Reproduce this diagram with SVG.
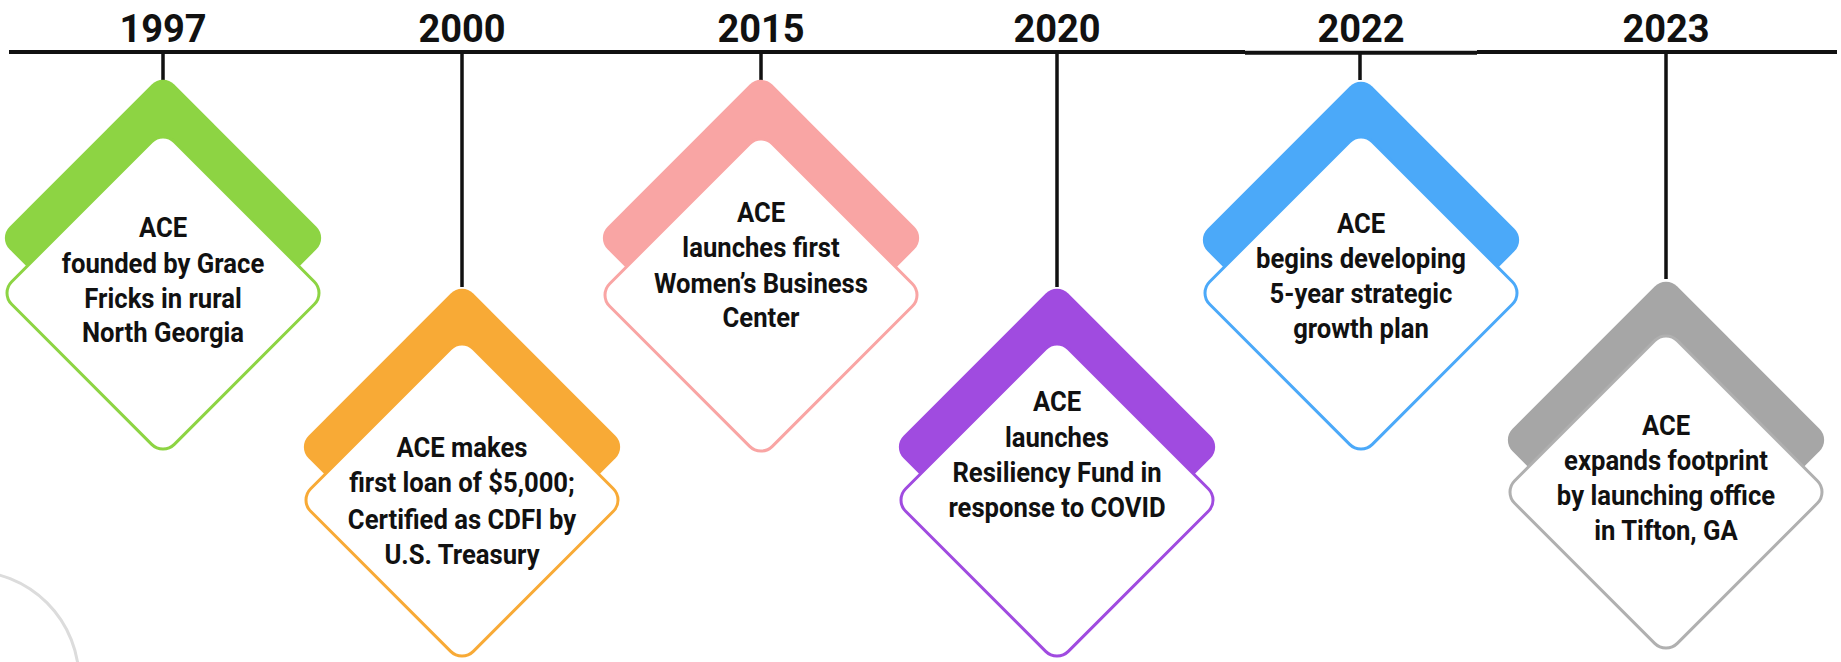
<svg xmlns="http://www.w3.org/2000/svg" width="1841" height="662" viewBox="0 0 1841 662">
<style>
.yr{font-family:Roboto,"Liberation Sans",sans-serif;font-weight:700;font-size:38px;fill:#111;text-anchor:middle}
.lbl{font-family:Roboto,"Liberation Sans",sans-serif;font-weight:700;font-size:28.5px;fill:#111;text-anchor:middle}
.tl{stroke:#111;stroke-width:4;fill:none}
.cn{stroke:#111;stroke-width:3.5;fill:none}
.card{fill:#fff;stroke-width:3}
</style>
<defs>
<rect id="dia" x="-116.5" y="-116.5" width="233" height="233" rx="16" transform="rotate(45)"/>
<rect id="diaw" x="-115" y="-115" width="230" height="230" rx="16" transform="rotate(45)"/>
</defs>
<rect width="1841" height="662" fill="#fff"/>
<circle cx="-30" cy="680" r="109" fill="none" stroke="#dcdcdc" stroke-width="3"/>
<g id="connectors">
<path class="tl" d="M9 52H1245M1245 52.8H1477M1477 52H1837"/>
<path class="cn" d="M163 52V80M462 52V287M761 52V80M1057 52V287M1360 52V80M1666 52V279"/>
</g>
<g id="n1997">
<text class="yr" x="163" y="42">1997</text>
<use href="#dia" x="163" y="238" fill="#8DD443"/>
<use href="#diaw" x="163" y="293" class="card" stroke="#8DD443"/>
<g transform="translate(163,0) scale(0.9,1)">
<text class="lbl" x="0" y="237">ACE</text>
<text class="lbl" x="0" y="273">founded by Grace</text>
<text class="lbl" x="0" y="308">Fricks in rural</text>
<text class="lbl" x="0" y="342">North Georgia</text>
</g>
</g>
<g id="n2000">
<text class="yr" x="462" y="42">2000</text>
<use href="#dia" x="462" y="447" fill="#F8AA36"/>
<use href="#diaw" x="462" y="500" class="card" stroke="#F8AA36"/>
<g transform="translate(462,0) scale(0.9,1)">
<text class="lbl" x="0" y="457">ACE makes</text>
<text class="lbl" x="0" y="492">first loan of $5,000;</text>
<text class="lbl" x="0" y="529">Certified as CDFI by</text>
<text class="lbl" x="0" y="564">U.S. Treasury</text>
</g>
</g>
<g id="n2015">
<text class="yr" x="761" y="42">2015</text>
<use href="#dia" x="761" y="238" fill="#F9A5A4"/>
<use href="#diaw" x="761" y="295" class="card" stroke="#F9A5A4"/>
<g transform="translate(761,0) scale(0.9,1)">
<text class="lbl" x="0" y="222">ACE</text>
<text class="lbl" x="0" y="257">launches first</text>
<text class="lbl" x="0" y="293">Women’s Business</text>
<text class="lbl" x="0" y="327">Center</text>
</g>
</g>
<g id="n2020">
<text class="yr" x="1057" y="42">2020</text>
<use href="#dia" x="1057" y="447" fill="#A04BE0"/>
<use href="#diaw" x="1057" y="500" class="card" stroke="#A04BE0"/>
<g transform="translate(1057,0) scale(0.9,1)">
<text class="lbl" x="0" y="411">ACE</text>
<text class="lbl" x="0" y="447">launches</text>
<text class="lbl" x="0" y="482">Resiliency Fund in</text>
<text class="lbl" x="0" y="517">response to COVID</text>
</g>
</g>
<g id="n2022">
<text class="yr" x="1361" y="42">2022</text>
<use href="#dia" x="1361" y="240" fill="#4BA9F9"/>
<use href="#diaw" x="1361" y="293" class="card" stroke="#4BA9F9"/>
<g transform="translate(1361,0) scale(0.9,1)">
<text class="lbl" x="0" y="233">ACE</text>
<text class="lbl" x="0" y="268">begins developing</text>
<text class="lbl" x="0" y="303">5-year strategic</text>
<text class="lbl" x="0" y="338">growth plan</text>
</g>
</g>
<g id="n2023">
<text class="yr" x="1666" y="42">2023</text>
<use href="#dia" x="1666" y="440" fill="#A6A6A6"/>
<use href="#diaw" x="1666" y="492" class="card" stroke="#B0B0B0"/>
<g transform="translate(1666,0) scale(0.9,1)">
<text class="lbl" x="0" y="435">ACE</text>
<text class="lbl" x="0" y="470">expands footprint</text>
<text class="lbl" x="0" y="505">by launching office</text>
<text class="lbl" x="0" y="540">in Tifton, GA</text>
</g>
</g>
</svg>
